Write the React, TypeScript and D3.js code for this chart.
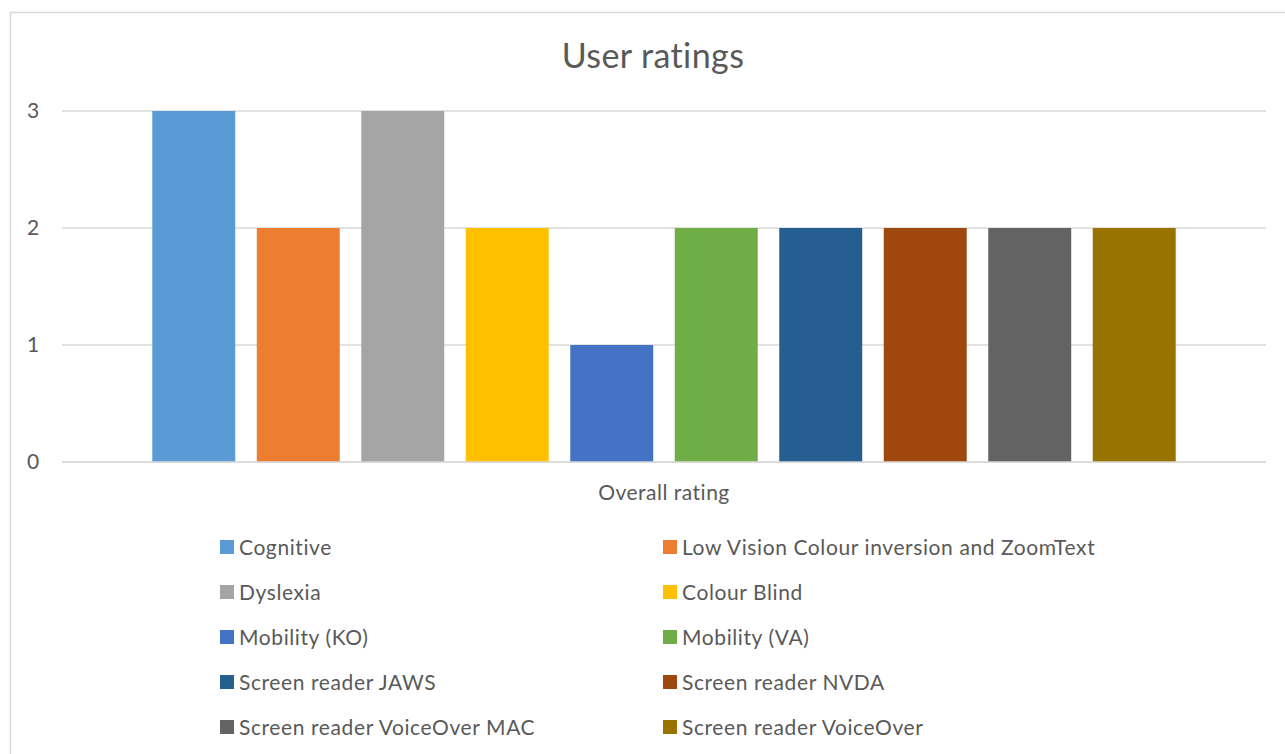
import React from 'react';
import * as d3 from 'd3';

const seriesNames = [
  'Cognitive',
  'Low Vision Colour inversion and ZoomText',
  'Dyslexia',
  'Colour Blind',
  'Mobility (KO)',
  'Mobility (VA)',
  'Screen reader JAWS',
  'Screen reader NVDA',
  'Screen reader VoiceOver MAC',
  'Screen reader VoiceOver',
];
const ratings = [3, 2, 3, 2, 1, 2, 2, 2, 2, 2];
const colors = [
  '#5B9BD5', '#ED7D31', '#A5A5A5', '#FFC000', '#4472C4',
  '#70AD47', '#255E91', '#9E480E', '#636363', '#997300',
];
const yTicks = [0, 1, 2, 3];
const categoryLabel = 'Overall rating';

const W = 1285;
const H = 754;
const FONT = 'Lato, "Open Sans", sans-serif';

const App: React.FC = () => {
  const plot = { left: 62, right: 1266, top: 111, bottom: 462 };

  const x = d3.scaleBand<string>()
    .domain(seriesNames)
    .range([plot.left, plot.right])
    .paddingInner(0.206)
    .paddingOuter(0.864);

  const y = d3.scaleLinear().domain([0, 3]).range([plot.bottom, plot.top]);

  // legend: two columns, rows of 45px
  const legendCols = [220, 663];
  const legendTop = 540;
  const rowStep = 45;

  return (
    <svg width={W} height={H} style={{ position: 'absolute', left: 0, top: 0, fontFamily: FONT }}>
      <rect x={0} y={0} width={W} height={H} fill="#fff" />
      <rect x={10.5} y={12.5} width={W + 20} height={H + 20} fill="#fff" stroke="#d9d9d9" strokeWidth={1.5} />

      <text x={653} y={68} textAnchor="middle" fontSize={34} letterSpacing={0.4} fill="#595959">User ratings</text>

      {yTicks.map(t => (
        <g key={t}>
          <line x1={plot.left} x2={plot.right} y1={y(t)} y2={y(t)} stroke="#d9d9d9" strokeWidth={1.5} />
          <text x={33} y={y(t)} dy="0.35em" textAnchor="middle" fontSize={21} fill="#595959">{t}</text>
        </g>
      ))}

      {seriesNames.map((name, i) => (
        <rect
          key={name}
          x={x(name)}
          y={y(ratings[i])}
          width={x.bandwidth()}
          height={y(0) - y(ratings[i])}
          fill={colors[i]}
        />
      ))}
      <line x1={plot.left} x2={plot.right} y1={y(0)} y2={y(0)} stroke="#d9d9d9" strokeWidth={1.5} />

      <text x={(plot.left + plot.right) / 2} y={500} textAnchor="middle" fontSize={21} letterSpacing={0.5} fill="#595959">{categoryLabel}</text>

      {seriesNames.map((name, i) => {
        const col = i % 2;
        const row = Math.floor(i / 2);
        const lx = legendCols[col];
        const ly = legendTop + row * rowStep;
        return (
          <g key={name} transform={`translate(${lx},${ly})`}>
            <rect x={0} y={0} width={14} height={14} fill={colors[i]} />
            <text x={19} y={7} dy="0.36em" fontSize={21} letterSpacing={0.6} fill="#595959">{name}</text>
          </g>
        );
      })}
    </svg>
  );
};

export default App;
